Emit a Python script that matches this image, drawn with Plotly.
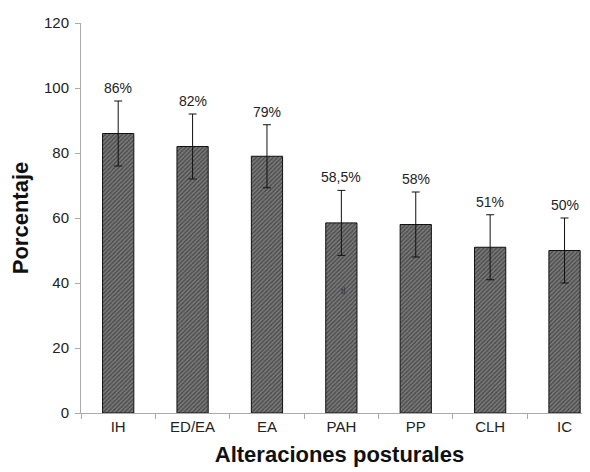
import plotly.graph_objects as go

categories = ["IH", "ED/EA", "EA", "PAH", "PP", "CLH", "IC"]
values = [86, 82, 79, 58.5, 58, 51, 50]
errors = [10, 10, 9.7, 10, 10, 10, 10]
labels = ["86%", "82%", "79%", "58,5%", "58%", "51%", "50%"]
y_ticks = [0, 20, 40, 60, 80, 100, 120]

fig = go.Figure()
fig.add_trace(go.Bar(
    x=categories, y=values, width=0.42,
    marker=dict(color="#666666", line=dict(color="#111111", width=1),
                pattern=dict(shape="/", fgcolor="#1a1a1a", bgcolor="#7a7a7a", size=3, solidity=0.45)),
    error_y=dict(type="data", array=errors, visible=True, color="#111111", thickness=1, width=4),
    showlegend=False,
))

for c, v, e, t in zip(categories, values, errors, labels):
    fig.add_annotation(x=c, y=v + e, text=t, showarrow=False, yanchor="bottom", yshift=3,
                       font=dict(family="Liberation Sans, Arial", size=14, color="#222222"))

fig.add_annotation(x="PAH", y=37.5, text="tl", showarrow=False, xshift=2,
                   font=dict(family="Liberation Sans, Arial", size=9, color="#333333"))

fig.update_layout(
    width=590, height=472,
    margin=dict(l=73, r=0, t=15, b=67),
    plot_bgcolor="white", paper_bgcolor="white",
    font=dict(family="Liberation Sans, Arial", size=15, color="#222222"),
    xaxis=dict(range=[-0.5, 6.45], showline=True, linecolor="#aaaaaa", linewidth=1,
               ticks="outside", tickson="boundaries", ticklen=5, tickcolor="#aaaaaa",
               title=dict(text="<b>Alteraciones posturales</b>", font=dict(size=22, color="#111111"), standoff=12),
               tickfont=dict(size=15, color="#222222")),
    yaxis=dict(range=[0, 120], tickvals=y_ticks, showline=True, linecolor="#aaaaaa", linewidth=1,
               ticks="outside", ticklen=5, tickcolor="#aaaaaa", showgrid=False, zeroline=False,
               ticklabelstandoff=3,
               title=dict(text="<b>Porcentaje</b>", font=dict(size=22, color="#111111"), standoff=17),
               tickfont=dict(size=15, color="#222222")),
)

fig.write_html("out.html")
